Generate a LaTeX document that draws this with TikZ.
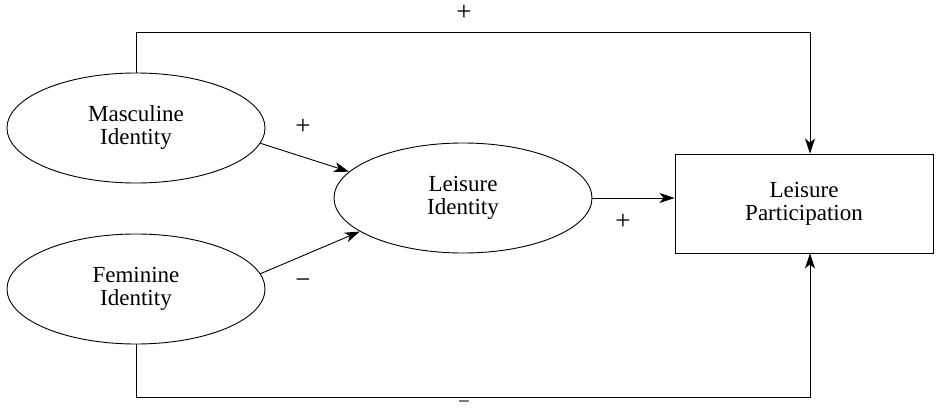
\documentclass[tikz,border=0pt]{standalone}
\usepackage{fontspec}
\setmainfont{Liberation Serif}
\usetikzlibrary{arrows.meta,shapes.geometric}
\begin{document}
\begin{tikzpicture}[x=1pt,y=-1pt,
  every node/.style={font=\fontsize{23}{23}\selectfont, align=center},
  ell/.style={draw, ellipse, line width=0.9pt, minimum width=258pt, minimum height=110pt, inner sep=0pt},
  box/.style={draw, rectangle, line width=0.9pt, minimum width=258pt, minimum height=99pt, inner sep=0pt},
  conn/.style={line width=0.9pt, -{Stealth[length=15pt,width=10pt,inset=4pt]}},
  sign/.style={inner sep=0pt, font=\fontsize{27}{27}\selectfont}]
\useasboundingbox (0,0) rectangle (936,415);
\node[ell] (m) at (136,128) {Masculine\\Identity};
\node[ell] (f) at (136,289) {Feminine\\Identity};
\node[ell] (li) at (463,198) {Leisure\\Identity};
\node[box] (p) at (804,203.5) {Leisure\\Participation};
\coordinate (top) at (0,32);
\coordinate (bot) at (0,397);
\coordinate (pt) at ([xshift=6pt]p.north);
\coordinate (pb) at ([xshift=6pt]p.south);
\draw[conn] (m.-7) -- (li.167);
\draw[conn] (f.7) -- (li.-162);
\draw[conn] (li.0 |- 0,198) -- (p.west |- 0,198);
\draw[conn] (m.north) -- (m.north |- top) -| (pt);
\draw[conn] (f.south) -- (f.south |- bot) -| (pb);
\node[sign] (s1) at (464,13) {+};
\node[sign] (s2) at (303,127) {+};
\node[sign] (s3) at (303,284) {−};
\node[sign] (s4) at (623,222) {+};
\node[sign, font=\fontsize{21}{21}\selectfont] (s5) at (464,405) {−};
\end{tikzpicture}
\end{document}
